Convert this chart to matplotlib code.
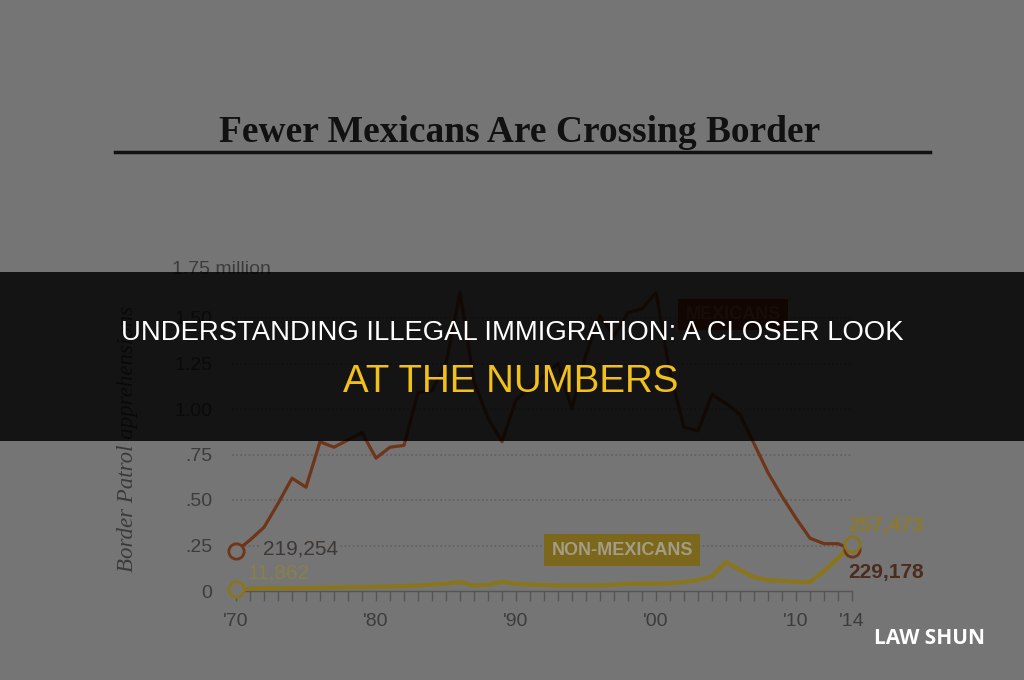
import matplotlib
matplotlib.use("Agg")
import matplotlib.pyplot as plt
from matplotlib.patches import Rectangle
from matplotlib.lines import Line2D

# datos (millones de detenciones)
years = list(range(1970, 2015))
mexicans = [0.219, 0.28, 0.35, 0.48, 0.62, 0.57, 0.82, 0.79, 0.83, 0.87,
            0.73, 0.79, 0.80, 1.09, 1.10, 1.25, 1.64, 1.15, 0.95, 0.82,
            1.05, 1.12, 1.18, 1.25, 1.00, 1.30, 1.51, 1.40, 1.53, 1.55,
            1.64, 1.20, 0.90, 0.88, 1.08, 1.03, 0.97, 0.81, 0.65, 0.52,
            0.40, 0.29, 0.26, 0.26, 0.229]
non_mexicans = [0.012, 0.013, 0.014, 0.015, 0.016, 0.017, 0.018, 0.020, 0.021, 0.022,
                0.023, 0.025, 0.027, 0.030, 0.035, 0.040, 0.050, 0.030, 0.035, 0.050,
                0.040, 0.035, 0.033, 0.030, 0.030, 0.030, 0.030, 0.035, 0.040, 0.040,
                0.040, 0.042, 0.050, 0.060, 0.080, 0.160, 0.115, 0.075, 0.060, 0.055,
                0.050, 0.050, 0.110, 0.180, 0.257]

y_ticks = [0, 0.25, 0.5, 0.75, 1.0, 1.25, 1.5]
y_tick_labels = ["0", ".25", ".50", ".75", "1.00", "1.25", "1.50"]
x_ticks = [1970, 1980, 1990, 2000, 2010, 2014]
x_tick_labels = ["'70", "'80", "'90", "'00", "'10", "'14"]

bg = "#757575"
c_mex = "#6e3518"
c_non = "#8a751b"
c_txt = "#3c3c3c"

W, H = 1024, 680
fig = plt.figure(figsize=(W / 100, H / 100), dpi=100, facecolor=bg)

# ejes en pixeles: x 232..852, y 591..272
ax = fig.add_axes([232 / W, (H - 591) / H, (852 - 232) / W, (591 - 272.5) / H])
ax.set_facecolor(bg)
ax.set_xlim(1970 - 4 / 14, 2014)
ax.set_ylim(0, 1.75)

for v in y_ticks[1:]:
    ax.axhline(v, color="#5f5f5f", lw=1.2, ls=(0, (1, 1.5)), zorder=1)

ax.plot(years, mexicans, color=c_mex, lw=2.3, zorder=3, clip_on=False)
ax.plot(years, non_mexicans, color=c_non, lw=3.0, zorder=3, clip_on=False)

for (x, y, c) in [(years[0], mexicans[0], c_mex), (years[0], non_mexicans[0], c_non),
                  (years[-1], mexicans[-1], c_mex), (years[-1], non_mexicans[-1], c_non)]:
    ax.plot([x], [y], marker="o", ms=11, mfc=bg, mec=c, mew=2, zorder=5, clip_on=False)

ax.set_yticks(y_ticks)
ax.set_yticklabels(y_tick_labels)
ax.tick_params(axis="y", length=0, pad=14, labelsize=14, labelcolor=c_txt)
for lab in ax.get_yticklabels():
    lab.set_fontfamily("Liberation Sans")

ax.set_xticks(x_ticks)
ax.set_xticklabels(x_tick_labels)
ax.set_xticks(years, minor=True)
ax.tick_params(axis="x", which="both", length=7, width=1, color="#555555",
               direction="out", pad=9, labelsize=14, labelcolor=c_txt)
for lab in ax.get_xticklabels():
    lab.set_fontfamily("Liberation Sans")

for s in ["top", "right", "left"]:
    ax.spines[s].set_visible(False)
ax.spines["bottom"].set_color("#555555")
ax.spines["bottom"].set_linewidth(1)

# etiquetas de valores
ax.text(1971.9, mexicans[0] + 0.01, "219,254", fontsize=15, color="#3d3833",
        va="center", ha="left", family="Liberation Sans",
        bbox=dict(fc=bg, ec="none", pad=2), zorder=4)
ax.text(1970.8, 0.10, "11,862", fontsize=15, color="#888045",
        va="center", ha="left", family="Liberation Sans", zorder=4)
ax.text(2013.7, 0.36, "257,473", fontsize=15, color="#8c7a2a", fontweight="bold",
        va="center", ha="left", family="Liberation Sans", zorder=4)
ax.text(2013.7, 0.10, "229,178", fontsize=15, color="#4d2b1d", fontweight="bold",
        va="center", ha="left", family="Liberation Sans", zorder=4)

ax.text(2005.5, 1.52, "MEXICANS", fontsize=13, color="#8e4a34", fontweight="bold",
        ha="center", va="center", family="Liberation Sans",
        bbox=dict(fc="#6a2410", ec="none", boxstyle="square,pad=0.4"), zorder=4)
ax.text(1997.6, 0.225, "NON-MEXICANS", fontsize=13, color="#a39c86", fontweight="bold",
        ha="center", va="center", family="Liberation Sans",
        bbox=dict(fc="#7b681c", ec="none", boxstyle="square,pad=0.4"), zorder=4)

fig.text(172 / W, 1 - 270 / H, "1.75 million", fontsize=14, color=c_txt,
         ha="left", va="center", family="Liberation Sans")

# titulo y subrayado
fig.text(520 / W, 1 - 142 / H, "Fewer Mexicans Are Crossing Border", fontsize=27,
         fontweight="bold", color="#111111", ha="center", va="baseline",
         family="Liberation Serif")
fig.lines.append(Line2D([115 / W, 930 / W], [1 - 152 / H, 1 - 152 / H],
                        transform=fig.transFigure, color="#111111", lw=2.5))

fig.text(128 / W, 1 - 439 / H, "Border Patrol apprehensions", rotation=90,
         fontsize=16.5, style="italic", color="#3a3a3a", ha="center", va="center",
         family="Liberation Serif")

# franja oscura con el titular
fig.patches.append(Rectangle((0, (H - 441) / H), 1, 169 / H, transform=fig.transFigure,
                             facecolor="black", alpha=0.83, edgecolor="none", zorder=10))
fig.text(512 / W, 1 - 333 / H, "UNDERSTANDING ILLEGAL IMMIGRATION: A CLOSER LOOK",
         fontsize=19.8, color="white", ha="center", va="center",
         family="Liberation Sans", zorder=11)
fig.text(511 / W, 1 - 382 / H, "AT THE NUMBERS", fontsize=27.7, color="#f2c01b",
         ha="center", va="center", family="Liberation Sans", zorder=11)

fig.text(930 / W, 1 - 638 / H, "LAW SHUN", fontsize=15, fontweight="bold",
         color="white", ha="center", va="center", family="Open Sans", zorder=11)

fig.savefig("out.png", dpi=100, facecolor=bg)
